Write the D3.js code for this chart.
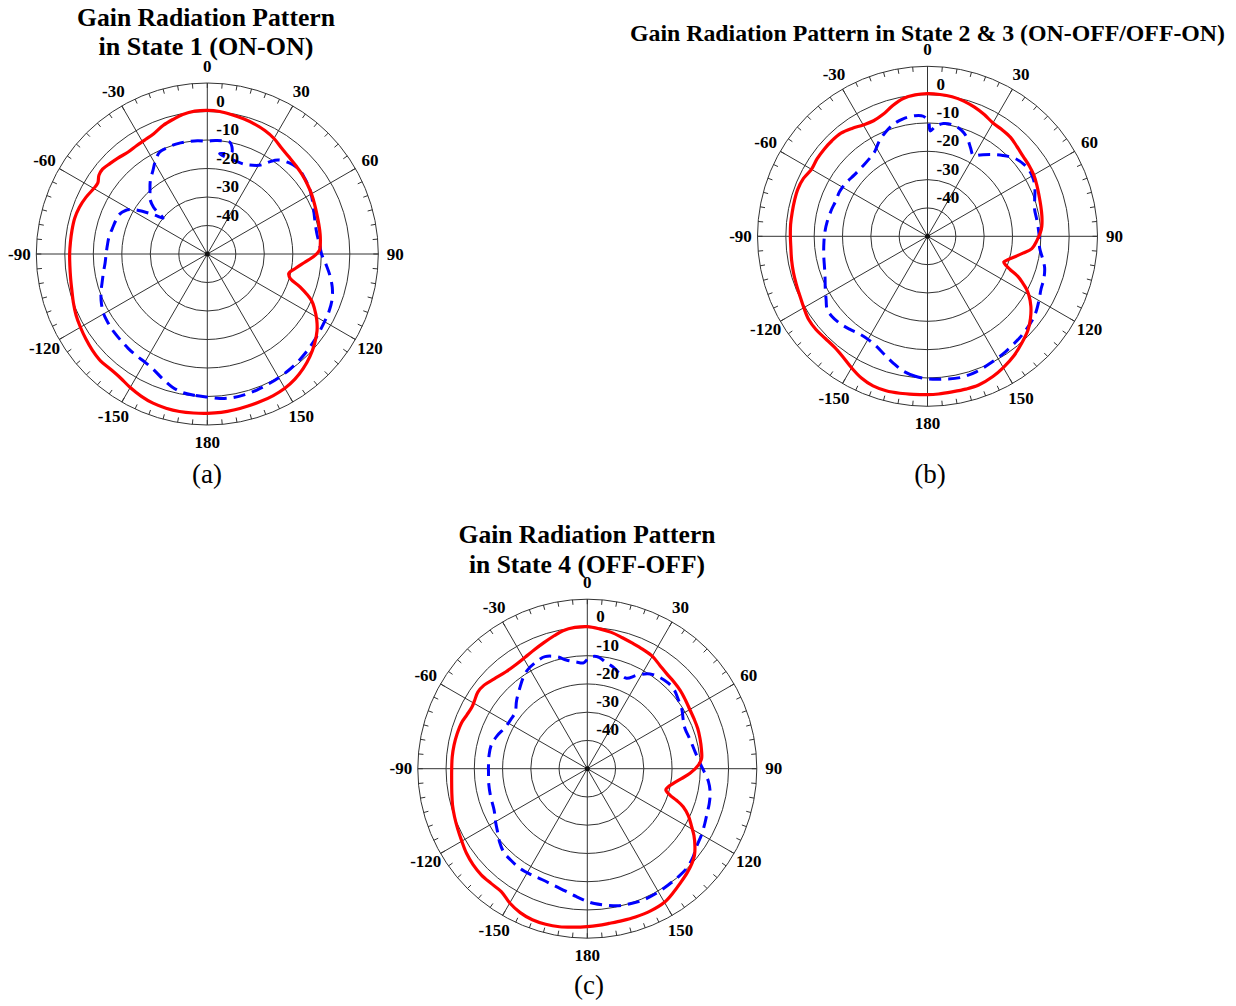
<!DOCTYPE html>
<html>
<head>
<meta charset="utf-8">
<script src="https://cdn.jsdelivr.net/npm/d3@7"></script>
<style>
  html, body { margin: 0; padding: 0; background: #fff; }
  svg { display: block; }
</style>
</head>
<body>
<svg id="fig" width="1236" height="1006"></svg>
<script>
// ---- axis definitions -------------------------------------------------
const angleTickLabels = [0, 30, 60, 90, 120, 150, 180, -150, -120, -90, -60, -30];
const radialTickLabels = [0, -10, -20, -30, -40];
const gainDomain = [-50, 10];          // centre .. outer rim, dB
const minorTickStep = 5;               // degrees between rim ticks

// ---- titles and captions ----------------------------------------------
const titleA = ["Gain Radiation Pattern", "in State 1 (ON-ON)"];
const titleB = ["Gain Radiation Pattern in State 2 & 3 (ON-OFF/OFF-ON)"];
const titleC = ["Gain Radiation Pattern", "in State 4 (OFF-OFF)"];
const captions = ["(a)", "(b)", "(c)"];

// ---- State 1 (ON-ON) --------------------------------------------------
const s1SolidDeg = [-175,-170,-165,-160,-155,-150,-145,-140,-135,-130,-125,-120,-115,-110,-105,-100,-95,-90,-85,-80,-75,-70,-65,-60,-57,-54,-51,-47,-43,-38,-33,-29,-24,-19,-14,-10,-5,0,5,10,15,20,25,30,35,40,45,50,55,60,65,70,75,80,85,88,91,95,99,103.5,106.5,109.5,114,117,121,125,130,135,140,145,150,155,160,165,170,175,180];
const s1SolidDb  = [6.0,6.1,6.0,5.7,5.0,4.1,3.1,2.8,3.0,2.6,2.0,1.4,0.8,0.0,-0.8,-1.3,-1.6,-1.7,-1.8,-1.8,-1.8,-2.2,-3.0,-4.0,-4.2,-3.0,-2.7,-3.4,-4.0,-4.7,-4.6,-4.4,-3.8,-2.3,-1.2,-0.3,0.3,0.4,0.2,-0.4,-0.9,-1.5,-2.2,-3.2,-4.6,-5.5,-6.1,-6.6,-7.2,-7.8,-8.5,-9.1,-9.5,-9.8,-10.2,-10.6,-12.4,-15.8,-18.5,-20.6,-19.6,-15.5,-10.0,-7.8,-5.2,-3.0,-0.9,0.9,2.4,3.6,4.4,4.8,5.0,5.2,5.5,5.8,5.9];
const s1DashDeg = [-180,-175,-170,-165,-160,-155,-150,-145,-140,-135,-130,-125,-120,-115,-110,-105,-100,-95,-90,-85,-80,-75,-70,-66,-62,-59,-56.5,-53.5,-51,-49,-46,-42.6,-38,-33,-29,-25,-20,-15,-10,-5,0,4,8,11.5,13,13.5,10,7,20.7,25,31,34,37,42,47,52,58,63,68,73,79,85,90,95,100,105,110,115,120,125,130,135,140,145,150,155,160,165,170,175];
const s1DashDb  = [0.2,-0.2,-0.6,-1.8,-3.6,-5.3,-6.2,-6.5,-6.8,-7.1,-7.3,-7.6,-8.0,-9.0,-10.3,-11.8,-13.0,-14.0,-14.5,-14.8,-15.0,-15.5,-15.8,-16.1,-17.5,-19.7,-23.0,-27.0,-30.0,-25.0,-22.0,-20.3,-17.5,-15.0,-12.5,-10.5,-10.1,-9.9,-10.0,-10.1,-10.4,-10.1,-9.9,-10.0,-11.5,-13.5,-14.2,-14.5,-16.0,-15.5,-13.6,-11.0,-8.7,-7.0,-6.2,-6.7,-7.5,-8.6,-9.7,-10.5,-10.9,-10.5,-9.9,-8.2,-6.3,-4.6,-3.4,-2.8,-2.5,-2.1,-1.6,-1.1,-0.6,-0.2,0.1,0.4,0.8,1.1,1.2,0.9];

// ---- State 2 & 3 (ON-OFF / OFF-ON) ------------------------------------
const s23SolidDeg = [-175,-170,-165,-160,-155,-150,-145,-140,-135,-130,-125,-120,-115,-110,-105,-100,-95,-90,-85,-80,-75,-70,-65,-60,-55,-50,-45,-40,-35,-30,-25,-20,-15,-10,-5,0,5,10,15,20,25,30,35,40,45,50,55,60,65,70,75,80,85,88,92,96.7,100,103.2,106,108.6,110.5,112,114,116,118,120.2,124,128.6,133,138,144,150,155,161,166,171,176,180];
const s23SolidDb  = [6.0,6.25,6.45,6.2,5.2,3.6,2.0,1.1,1.0,1.3,1.2,0.4,-0.3,-0.7,-1.0,-1.3,-1.6,-1.6,-1.5,-1.5,-1.4,-1.3,-1.7,-2.7,-2.4,-2.3,-2.3,-2.5,-3.5,-4.6,-5.0,-4.2,-2.3,-0.6,0.1,0.35,0.25,0.0,-0.6,-1.5,-2.6,-3.8,-4.1,-4.4,-5.3,-6.0,-6.3,-6.7,-7.4,-8.1,-8.6,-9.0,-9.5,-10.1,-11.3,-12.9,-15.8,-18.3,-20.3,-21.6,-20.3,-18.5,-15.0,-12.7,-10.5,-8.6,-6.0,-3.5,-1.5,0.1,2.0,3.5,4.6,5.5,5.6,5.6,5.8,5.9];
const s23DashDeg = [-180,-175,-170,-165,-160,-155,-150,-145,-140,-135,-130,-126,-122,-117,-112,-107,-100,-93,-87,-82,-75,-69,-63,-57,-50,-43,-37,-32,-27,-22,-17,-12,-6,-2,0.5,1.5,4,8,13,18,22,26,29.5,33,38,43,48.5,54,58,62,66,71,75.5,81,86,91,96,101,105,110,115,120,125,129,134,138,146,153,160,167,174];
const s23DashDb  = [0.3,-0.4,-1.6,-3.6,-5.6,-7.2,-8.0,-8.0,-7.2,-6.4,-6.0,-6.2,-7.8,-9.5,-11.0,-12.0,-12.8,-13.4,-13.8,-14.2,-14.8,-15.3,-15.2,-15.6,-16.3,-16.3,-15.8,-14.8,-12.4,-10.4,-8.7,-7.7,-7.2,-7.6,-9.5,-12.8,-11.2,-9.8,-9.7,-10.8,-12.6,-15.3,-17.2,-15.8,-13.4,-11.0,-8.6,-7.4,-7.2,-7.6,-8.5,-10.0,-11.0,-11.0,-10.8,-10.5,-10.2,-8.6,-7.2,-6.3,-5.8,-4.6,-3.3,-2.6,-2.0,-1.6,-0.8,-0.1,0.8,1.2,0.7];

// ---- State 4 (OFF-OFF) ------------------------------------------------
const s4SolidDeg = [-175,-170,-165,-160,-155,-150,-145,-140,-135,-130,-125,-120,-115,-110,-105,-100,-95,-90,-85,-80,-75,-70,-66,-62,-59,-55,-51,-46,-40,-34,-29,-24,-19,-14,-10,-5,0,5,10,15,20,25,30,35,40,45,50,55,60,65,70,75,80,85,88,92.6,96,99.7,103,105.2,107.7,109.5,111.6,115,119,122,126,129,132,136,141,145,150,156,162,167,172,176,180];
const s4SolidDb  = [6.3,6.8,7.0,6.9,6.2,4.9,3.1,3.0,3.1,2.8,2.2,1.3,0.6,0.0,-0.6,-1.3,-1.8,-2.0,-2.0,-2.1,-2.3,-2.6,-3.3,-3.7,-3.4,-2.7,-3.0,-4.2,-5.2,-5.3,-4.8,-3.9,-2.8,-1.5,-0.4,0.2,0.3,-0.3,-1.0,-2.0,-2.8,-3.4,-4.0,-5.3,-6.2,-6.6,-7.0,-7.6,-8.1,-8.3,-8.4,-8.7,-9.0,-9.4,-10.6,-13.6,-16.5,-19.1,-20.8,-21.2,-19.3,-16.5,-13.5,-10.5,-7.8,-5.5,-2.9,-1.2,-0.1,1.0,2.2,3.3,4.6,5.1,5.2,5.2,5.3,5.6,5.9];
const s4DashDeg = [-175,-170,-165,-158,-152,-146,-140,-135,-130,-126,-120,-114,-106,-99,-92,-88,-82,-76,-70,-63,-57,-52,-46,-40,-35,-31,-25,-20.7,-15,-11,-6,-2,0.5,3,6,10,14,19,23.5,28,33.5,38,43.5,48,53,58,63,67.6,74,81,87,91,96,101,106,110,115,120,125.5,130,135,140,145,151,157,162,167,172,177,180];
const s4DashDb  = [-4.6,-6.0,-6.9,-7.6,-7.5,-7.4,-7.8,-8.2,-9.5,-10.9,-12.5,-13.9,-14.4,-14.7,-15.0,-15.0,-14.9,-15.0,-16.0,-17.5,-17.8,-17.6,-15.2,-12.8,-10.5,-9.1,-8.0,-7.6,-9.0,-10.8,-12.0,-12.5,-11.0,-10.2,-10.4,-11.8,-12.8,-14.5,-15.1,-12.5,-9.8,-8.8,-8.3,-8.5,-9.6,-10.5,-11.9,-12.6,-12.2,-11.4,-10.1,-8.8,-6.9,-5.7,-5.1,-4.8,-4.1,-3.3,-2.5,-1.2,-0.2,0.0,0.15,0.4,0.5,0.2,-0.2,-1.2,-2.2,-3.0];

// ---- drawing ------------------------------------------------------------
const svg = d3.select("#fig");
const serif = "'Liberation Serif', 'Times New Roman', Times, serif";
const RED = "#ff0000", BLUE = "#0000ff", GRID = "#333333";

const panels = [
  { cx: 207.3, cy: 254.0, R: 171, title: titleA, titleY: [26, 55], titleW: [258, 215], titleX: 206, titleSize: 25,
    caption: captions[0], capX: 207, capY: 483,
    solid: [s1SolidDeg, s1SolidDb], dashed: [s1DashDeg, s1DashDb] },
  { cx: 927.5, cy: 236.3, R: 170, title: titleB, titleY: [41], titleW: [595], titleX: 927.5, titleSize: 24,
    caption: captions[1], capX: 930, capY: 483,
    solid: [s23SolidDeg, s23SolidDb], dashed: [s23DashDeg, s23DashDb] },
  { cx: 587.3, cy: 768.7, R: 169.5, title: titleC, titleY: [543, 573], titleW: [257, 236], titleX: 587, titleSize: 25,
    caption: captions[2], capX: 589, capY: 994,
    solid: [s4SolidDeg, s4SolidDb], dashed: [s4DashDeg, s4DashDb] }
];

const rad = deg => deg * Math.PI / 180;

panels.forEach(p => {
  const r = d3.scaleLinear().domain(gainDomain).range([0, p.R]);
  const g = svg.append("g").attr("transform", `translate(${p.cx},${p.cy})`);

  // concentric rings at every radial tick plus the outer rim
  const ringValues = radialTickLabels.concat([gainDomain[1]]);
  g.selectAll("circle.ring").data(ringValues).join("circle")
    .attr("class", "ring")
    .attr("r", d => r(d))
    .attr("fill", "none").attr("stroke", GRID).attr("stroke-width", 1);

  // spokes every 30 degrees
  g.selectAll("line.spoke").data(angleTickLabels).join("line")
    .attr("class", "spoke")
    .attr("x1", 0).attr("y1", 0)
    .attr("x2", d => p.R * Math.sin(rad(d)))
    .attr("y2", d => -p.R * Math.cos(rad(d)))
    .attr("stroke", GRID).attr("stroke-width", 1);

  // inward ticks on the rim
  const minor = d3.range(0, 360, minorTickStep);
  g.selectAll("line.tick").data(minor).join("line")
    .attr("class", "tick")
    .attr("x1", d => (p.R - 5) * Math.sin(rad(d)))
    .attr("y1", d => -(p.R - 5) * Math.cos(rad(d)))
    .attr("x2", d => p.R * Math.sin(rad(d)))
    .attr("y2", d => -p.R * Math.cos(rad(d)))
    .attr("stroke", GRID).attr("stroke-width", 1);

  g.append("circle").attr("r", 2.5).attr("fill", "#111");

  // gain traces
  const trace = d3.lineRadial()
    .angle(d => rad(d[0]))
    .radius(d => r(d[1]))
    .curve(d3.curveCatmullRomClosed.alpha(0.5));

  const dashedPts = d3.zip(p.dashed[0], p.dashed[1]);
  const solidPts = d3.zip(p.solid[0], p.solid[1]);

  g.append("path").attr("d", trace(dashedPts))
    .attr("fill", "none").attr("stroke", BLUE).attr("stroke-width", 3)
    .attr("stroke-dasharray", "12,7");
  g.append("path").attr("d", trace(solidPts))
    .attr("fill", "none").attr("stroke", RED).attr("stroke-width", 3.2)
    .attr("stroke-linejoin", "round");

  // radial (dB) labels just above each ring, right of the 0° spoke
  g.selectAll("text.rlab").data(radialTickLabels).join("text")
    .attr("class", "rlab")
    .attr("x", 9)
    .attr("y", d => -r(d) - 5)
    .attr("font-family", serif).attr("font-weight", "bold").attr("font-size", 17)
    .attr("fill", "#000")
    .text(d => d);

  // angle labels outside the rim
  g.selectAll("text.alab").data(angleTickLabels).join("text")
    .attr("class", "alab")
    .attr("x", d => (p.R + 17) * Math.sin(rad(d)))
    .attr("y", d => -(p.R + 17) * Math.cos(rad(d)))
    .attr("text-anchor", "middle").attr("dominant-baseline", "central")
    .attr("font-family", serif).attr("font-weight", "bold").attr("font-size", 17)
    .attr("fill", "#000")
    .text(d => d);

  // title lines
  p.title.forEach((line, i) => {
    svg.append("text")
      .attr("x", p.titleX).attr("y", p.titleY[i])
      .attr("text-anchor", "middle")
      .attr("font-family", serif).attr("font-weight", "bold").attr("font-size", p.titleSize)
      .attr("textLength", p.titleW[i]).attr("lengthAdjust", "spacingAndGlyphs")
      .attr("fill", "#000")
      .text(line);
  });

  // caption
  svg.append("text")
    .attr("x", p.capX).attr("y", p.capY)
    .attr("text-anchor", "middle")
    .attr("font-family", serif).attr("font-size", 27)
    .attr("fill", "#000")
    .text(p.caption);
});
</script>
</body>
</html>
